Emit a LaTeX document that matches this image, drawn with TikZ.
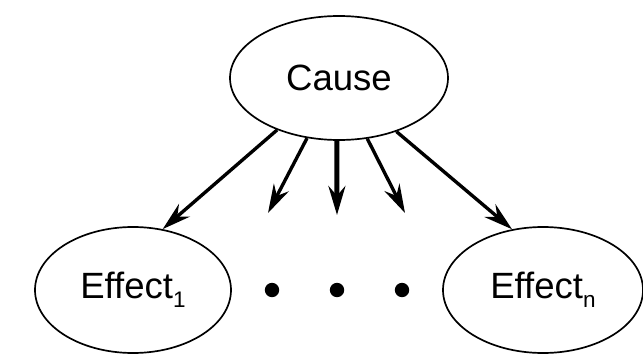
\documentclass[tikz,border=0pt]{standalone}
\usepackage{fontspec}
\setmainfont{Liberation Sans}
\usetikzlibrary{arrows.meta}
\usetikzlibrary{shapes.geometric}
\pgfdeclarelayer{edgelayer}
\pgfdeclarelayer{nodelayer}
\pgfsetlayers{edgelayer,nodelayer,main}
\newcommand{\lowidx}[1]{\raisebox{-6.4pt}{\fontsize{16}{16}\selectfont #1}}
\tikzstyle{randvar}=[ellipse,fill=white,draw=black,line width=1.2pt,inner sep=0pt,font=\fontsize{26}{30}\selectfont]
\tikzstyle{dot}=[circle,fill=black,inner sep=0pt,minimum size=0.36cm]
\tikzstyle{influence}=[-{Stealth[length=0.72cm,width=0.42cm,inset=0.24cm]},draw=black,line width=2.4pt]

\begin{document}
\begin{tikzpicture}
	\useasboundingbox (0, 0) rectangle (16.075, 8.825);
	\begin{pgfonlayer}{nodelayer}
		\node [style=randvar, minimum width=5.45cm, minimum height=3.1cm] (0) at (8.475, 6.875) {Cause};
		\node [style=randvar, minimum width=4.9cm, minimum height=3.15cm] (1) at (3.325, 1.575) {Effect\lowidx{1}};
		\node [style=randvar, minimum width=5cm, minimum height=3.15cm] (2) at (13.575, 1.575) {Effect\lowidx{n}};
		\node [style=dot] (3) at (6.8, 1.575) {};
		\node [style=dot] (4) at (8.425, 1.575) {};
		\node [style=dot] (5) at (10.05, 1.575) {};
		\coordinate (6) at (6.7, 3.5);
		\coordinate (7) at (8.425, 3.45);
		\coordinate (8) at (10.125, 3.5);
	\end{pgfonlayer}
	\begin{pgfonlayer}{edgelayer}
		\draw [style=influence] (0.220) to (1.64);
		\draw [style=influence] (0.242) to (6);
		\draw [style=influence, line width=3.6pt] (0.268) to (7);
		\draw [style=influence] (0.295) to (8);
		\draw [style=influence] (0.317) to (2.117);
	\end{pgfonlayer}
\end{tikzpicture}
\end{document}
